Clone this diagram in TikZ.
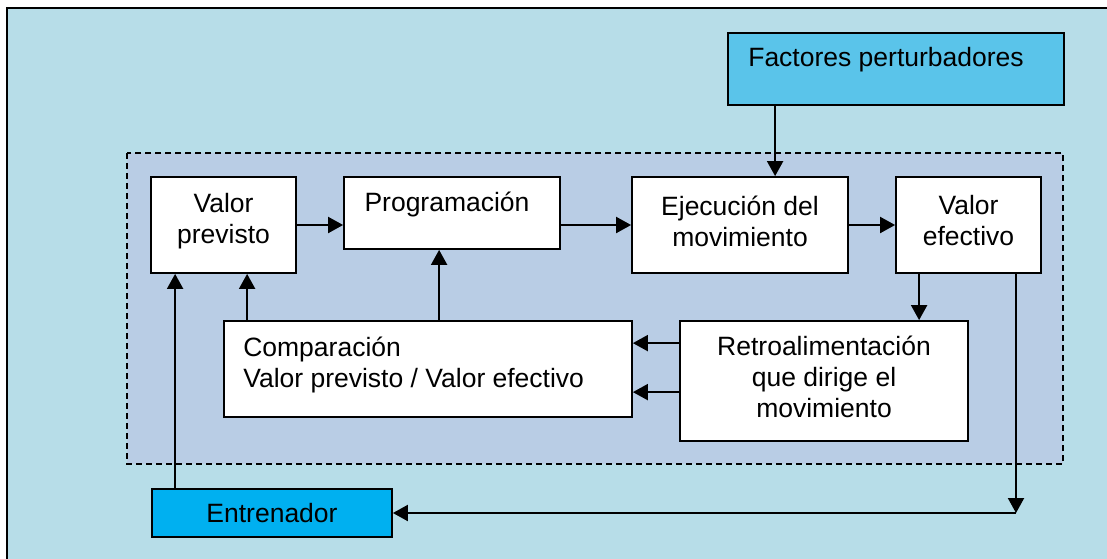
\documentclass[tikz,border=0pt]{standalone}
\usepackage{fontspec}
\setmainfont{Liberation Sans}
\usetikzlibrary{arrows.meta,positioning}
\definecolor{fondo}{HTML}{B7DDE8}
\definecolor{sistema}{HTML}{B9CDE5}
\definecolor{perturba}{HTML}{5AC4EA}
\definecolor{entrena}{HTML}{00B0F0}

\begin{document}
\begin{tikzpicture}[x=1pt,y=-1pt,
  caja/.style={draw, fill=white, line width=1.8pt, inner sep=0pt, align=center, font=\fontsize{26.5}{31}\selectfont},
  texto/.style={inner sep=0pt, align=left, font=\fontsize{26.5}{31}\selectfont},
  flecha/.style={line width=2pt, -{Triangle[length=15pt,width=16pt]}}]
  \useasboundingbox (0,0) rectangle (1107,558);
  %fondo
  \draw[fill=fondo, line width=2pt] (7,8) rectangle (1115,565);
  \draw[fill=sistema, dash pattern=on 6pt off 4pt, line width=1.6pt] (127,153) rectangle (1063,464);
  %bloques
  \node[caja, fill=perturba, minimum width=336pt, minimum height=72pt,
        label={[texto,anchor=base west,xshift=21pt,yshift=-34pt]north west:Factores perturbadores}] (fac) at (896,69) {};
  \node[caja, minimum width=145pt, minimum height=96pt,
        label={[texto,align=center,yshift=4pt]center:Valor\\previsto}] (vp) at (223.5,225) {};
  \node[caja, minimum width=216pt, minimum height=72pt,
        label={[texto,anchor=base,xshift=-5pt,yshift=-35pt]north:Programación}] (prog) at (452,213) {};
  \node[caja, minimum width=216pt, minimum height=96pt,
        label={[texto,align=center,yshift=4pt]center:Ejecución del\\movimiento}] (ejec) at (740,225) {};
  \node[caja, minimum width=145pt, minimum height=96pt,
        label={[texto,align=center,yshift=4pt]center:Valor\\efectivo}] (ve) at (968.5,225) {};
  \node[caja, minimum width=408pt, minimum height=96pt,
        label={[texto,anchor=west,xshift=20pt,yshift=4pt]west:Comparación\\Valor previsto / Valor efectivo}] (comp) at (428,369) {};
  \node[caja, minimum width=288pt, minimum height=120pt,
        label={[texto,align=center,yshift=4pt]center:Retroalimentación\\que dirige el\\movimiento}] (retro) at (824,381) {};
  \node[caja, fill=entrena, minimum width=240pt, minimum height=48pt] (entr) at (272,513) {Entrenador};
  \coordinate (esquina) at (1016,513);
  %conexiones
  \draw[flecha] ([xshift=48pt]fac.south west) -- ([xshift=48pt]fac.south west |- ejec.north);
  \draw[flecha] (vp.east) -- (vp.east -| prog.west);
  \draw[flecha] (ejec.west -| prog.east) -- (ejec.west);
  \draw[flecha] (ejec.east) -- (ve.west);
  \draw[flecha] ([xshift=24pt]ve.south west) -- ([xshift=24pt]ve.south west |- retro.north);
  \draw[flecha] (ve.south -| esquina) -- (esquina);
  \draw[flecha] (esquina) -- (esquina -| entr.east);
  \draw[flecha] ([yshift=-23pt]retro.north west) -- ([yshift=-23pt]retro.north west -| comp.east);
  \draw[flecha] ([yshift=-72pt]retro.north west) -- ([yshift=-72pt]retro.north west -| comp.east);
  \draw[flecha] ([xshift=24pt]comp.north west) -- ([xshift=24pt]comp.north west |- vp.south);
  \draw[flecha] ([xshift=216pt]comp.north west) -- ([xshift=216pt]comp.north west |- prog.south);
  \draw[flecha] ([xshift=24pt]entr.north west) -- ([xshift=24pt]entr.north west |- vp.south);
\end{tikzpicture}
\end{document}
